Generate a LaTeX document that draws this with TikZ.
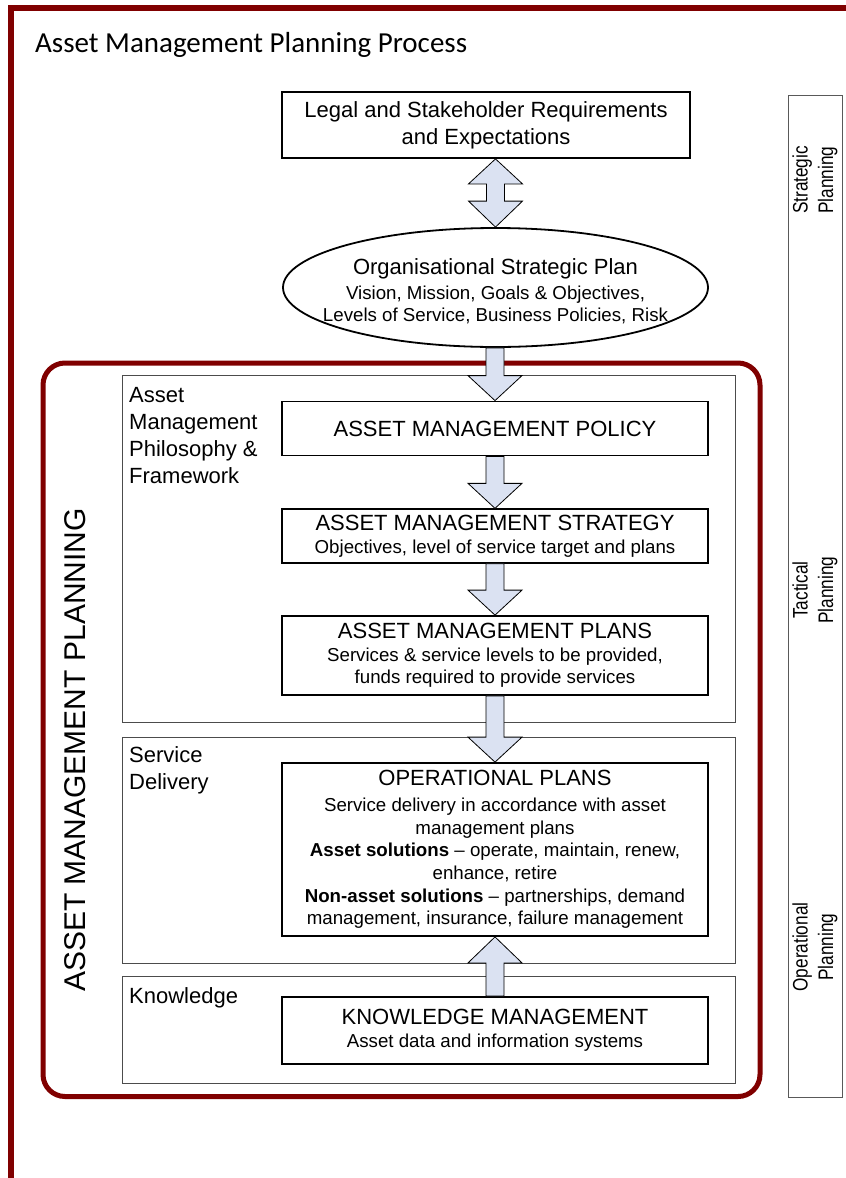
\documentclass[tikz,border=0pt]{standalone}
\usepackage{fontspec}
\setmainfont{Liberation Sans}
\newfontfamily\titlefont{Carlito}
\newfontfamily\narrowfont[FakeStretch=0.82]{Liberation Sans}
\usetikzlibrary{calc,shapes.geometric}
\definecolor{amred}{RGB}{128,0,0}
\definecolor{arrowblue}{RGB}{219,226,242}
\newcommand{\headfont}{\fontsize{22}{26}\selectfont}
\newcommand{\subfont}{\fontsize{18.7}{22.7}\selectfont}
\tikzset{
	plan/.style={draw,line width=1.8pt,minimum width=426pt,inner sep=0pt,align=center,font=\subfont},
	panel/.style={draw=black!70,line width=1pt,minimum width=613pt,inner sep=0pt},
	panellabel/.style={anchor=north west,align=left,inner sep=0pt,font=\fontsize{22}{27.2}\selectfont},
	levellabel/.style={rotate=90,align=center,inner sep=0pt,font=\narrowfont\fontsize{21}{25.5}\selectfont},
	blockarrow/.style={draw,line width=0.8pt,fill=arrowblue,line join=miter},
}
% block arrows: shaft 18pt wide, head 54pt wide
\newcommand{\blockdown}[2]{%
	\path[blockarrow] let \p1=(#1.south),\p2=(#2.north) in
	(\x2-9pt,\y1) -- (\x2+9pt,\y1) -- (\x2+9pt,\y2+25pt) -- (\x2+27pt,\y2+25pt)
	-- (\x2,\y2) -- (\x2-27pt,\y2+25pt) -- (\x2-9pt,\y2+25pt) -- cycle;}
\newcommand{\blockup}[2]{%
	\path[blockarrow] let \p1=(#1.north),\p2=(#2.south) in
	(\x2-9pt,\y1) -- (\x2+9pt,\y1) -- (\x2+9pt,\y2-26pt) -- (\x2+27pt,\y2-26pt)
	-- (\x2,\y2) -- (\x2-27pt,\y2-26pt) -- (\x2-9pt,\y2-26pt) -- cycle;}
\newcommand{\blockboth}[2]{%
	\path[blockarrow] let \p1=(#1.south),\p2=(#2.north) in
	(\x2,\y1) -- (\x2+27pt,\y1-25pt) -- (\x2+9pt,\y1-25pt) -- (\x2+9pt,\y2+26pt)
	-- (\x2+27pt,\y2+26pt) -- (\x2,\y2) -- (\x2-27pt,\y2+26pt) -- (\x2-9pt,\y2+26pt)
	-- (\x2-9pt,\y1-25pt) -- (\x2-27pt,\y1-25pt) -- cycle;}
\begin{document}
\begin{tikzpicture}[x=1pt,y=-1pt]
	\useasboundingbox (0,0) rectangle (846,1178);
	\draw[amred,line width=6pt] (11,1178)--(11,8)--(846,8);
	\node[anchor=base west,inner sep=0pt,font=\titlefont\fontsize{29}{29}\selectfont] (title) at (35,52) {Asset Management Planning Process};
	% planning levels
	\node[draw=black!65,line width=1pt,minimum width=54pt,minimum height=1002pt,inner sep=0pt] (levels) at (815,596) {};
	\node[levellabel] (strategic) at (815,180) {Strategic\\Planning};
	\node[levellabel] (tactical) at (815,590) {Tactical\\Planning};
	\node[levellabel] (operational) at (815,947) {Operational\\Planning};
	% asset management planning frame
	\node[draw=amred,line width=5pt,rounded corners=22pt,minimum width=717pt,minimum height=733.5pt,inner sep=0pt] (amframe) at (401.5,729.75) {};
	\node[rotate=90,inner sep=0pt,font=\fontsize{30}{30}\selectfont] (amtitle) at (75,750) {ASSET MANAGEMENT PLANNING};
	\node[panel,minimum height=347pt] (philpanel) at (428.5,548.5) {};
	\node[panel,minimum height=226pt] (servpanel) at (428.5,850) {};
	\node[panel,minimum height=107pt] (knowpanel) at (428.5,1030) {};
	\node[panellabel] (phillabel) at ([shift={(7.5,12.5)}]philpanel.north west) {Asset\\Management\\Philosophy \&\\Framework};
	\node[panellabel] (servlabel) at ([shift={(7.5,10)}]servpanel.north west) {Service\\Delivery};
	\node[panellabel] (knowlabel) at ([shift={(7.5,11)}]knowpanel.north west) {Knowledge};
	% boxes
	\node[plan,font=\fontsize{22}{27}\selectfont,minimum width=408pt,minimum height=66pt] (legal) at (486,125) {Legal and Stakeholder Requirements\\and Expectations};
	\node[draw,line width=1.8pt,ellipse,minimum width=425pt,minimum height=119pt,inner sep=0pt] (orgplan) at (495.5,287.5) {};
	\node[align=center,inner sep=0pt,font=\subfont] (orgtext) at ([yshift=-4pt]orgplan.center) {\headfont Organisational Strategic Plan\\[2pt]\subfont Vision, Mission, Goals \& Objectives,\\Levels of Service, Business Policies, Risk};
	\node[plan,minimum height=54pt] (policy) at (495,428.5) {\headfont ASSET MANAGEMENT POLICY};
	\node[plan,minimum height=53.5pt] (strategy) at (495,536) {\headfont ASSET MANAGEMENT STRATEGY\\\subfont Objectives, level of service target and plans};
	\node[plan,minimum height=79pt] (amplans) at (495,655.5) {\headfont ASSET MANAGEMENT PLANS\\\subfont Services \& service levels to be provided,\\funds required to provide services};
	\node[plan,minimum height=173pt] (opplans) at (495,849.5) {\headfont OPERATIONAL PLANS\\[3pt]\subfont Service delivery in accordance with asset\\management plans\\\textbf{Asset solutions} \textendash{} operate, maintain, renew,\\enhance, retire\\\textbf{Non-asset solutions} \textendash{} partnerships, demand\\management, insurance, failure management};
	\node[plan,minimum height=67pt] (knowledge) at (495,1030.5) {\headfont KNOWLEDGE MANAGEMENT\\\subfont Asset data and information systems};
	% arrows
	\blockboth{legal}{orgplan}
	\blockdown{orgplan}{policy}
	\blockdown{policy}{strategy}
	\blockdown{strategy}{amplans}
	\blockdown{amplans}{opplans}
	\blockup{knowledge}{opplans}
\end{tikzpicture}
\end{document}
